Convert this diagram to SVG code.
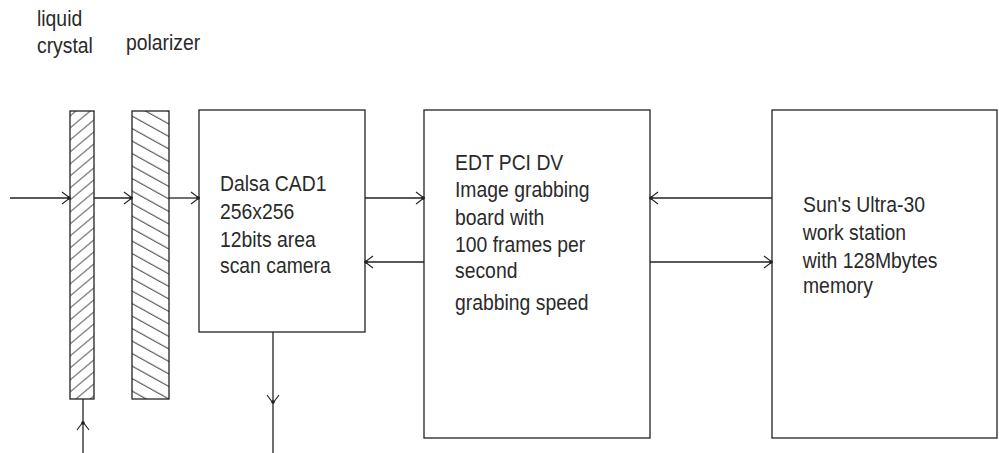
<svg xmlns="http://www.w3.org/2000/svg" width="999" height="453" viewBox="0 0 999 453">
<style>
.box{fill:#fff;stroke:#222;stroke-width:1.3}
.con{fill:none;stroke:#222;stroke-width:1.3}
.t{font-family:"Liberation Sans",Arial,sans-serif;font-size:22px;fill:#2a2a2a;transform-box:fill-box;transform-origin:0% 50%;transform:scaleX(0.88)}
</style>
<defs>
<marker id="ah" markerUnits="userSpaceOnUse" markerWidth="20" markerHeight="20" viewBox="-10 -10 20 20" refX="0" refY="0" orient="auto" overflow="visible">
<path d="M-8,-6 L0,0 L-8,6" fill="none" stroke="#222" stroke-width="1.1"/>
<circle cx="-1" cy="0" r="1.8" fill="#222"/>
</marker>
<pattern id="hatchLC" patternUnits="userSpaceOnUse" width="10" height="12" patternTransform="translate(70,110) skewY(-40)">
<line x1="0" y1="6" x2="10" y2="6" stroke="#222" stroke-width="1"/>
</pattern>
<pattern id="hatchPol" patternUnits="userSpaceOnUse" width="10" height="12.5" patternTransform="translate(132,110) skewY(29)">
<line x1="0" y1="6" x2="10" y2="6" stroke="#222" stroke-width="1"/>
</pattern>
</defs>
<rect width="999" height="453" fill="#fff"/>

<g id="liquid-crystal">
<rect x="70" y="111" width="24" height="288" fill="url(#hatchLC)" stroke="#222" stroke-width="1.3"/>
<text class="t" x="37" y="26">liquid</text>
<text class="t" x="37" y="53">crystal</text>
</g>

<g id="polarizer">
<rect x="132" y="111" width="37" height="288" fill="url(#hatchPol)" stroke="#222" stroke-width="1.3"/>
<text class="t" x="126" y="50">polarizer</text>
</g>

<g id="camera">
<rect class="box" x="199" y="110" width="166" height="222"/>
<text class="t" x="220" y="191">Dalsa CAD1</text>
<text class="t" x="220" y="219">256x256</text>
<text class="t" x="220" y="247">12bits area</text>
<text class="t" x="220" y="273">scan camera</text>
</g>

<g id="edt-board">
<rect class="box" x="424" y="110" width="226" height="328"/>
<text class="t" x="455" y="170">EDT PCI DV</text>
<text class="t" x="455" y="197">Image grabbing</text>
<text class="t" x="455" y="225">board with</text>
<text class="t" x="455" y="252">100 frames per</text>
<text class="t" x="455" y="278">second</text>
<text class="t" x="455" y="310">grabbing speed</text>
</g>

<g id="sun-workstation">
<rect class="box" x="772" y="110" width="225" height="328"/>
<text class="t" x="803" y="212">Sun's Ultra-30</text>
<text class="t" x="803" y="240">work station</text>
<text class="t" x="803" y="268">with 128Mbytes</text>
<text class="t" x="803" y="293">memory</text>
</g>

<g id="connectors">
<path class="con" d="M10,198 H70" marker-end="url(#ah)"/>
<path class="con" d="M94,198 H132" marker-end="url(#ah)"/>
<path class="con" d="M169,198 H199" marker-end="url(#ah)"/>
<path class="con" d="M365,198 H424" marker-end="url(#ah)"/>
<path class="con" d="M424,262 H365" marker-end="url(#ah)"/>
<path class="con" d="M772,198 H650" marker-end="url(#ah)"/>
<path class="con" d="M650,262 H772" marker-end="url(#ah)"/>
<path class="con" d="M273,332 V403 V453" marker-mid="url(#ah)"/>
<path class="con" d="M83,453 V422 V399" marker-mid="url(#ah)"/>
</g>
</svg>
